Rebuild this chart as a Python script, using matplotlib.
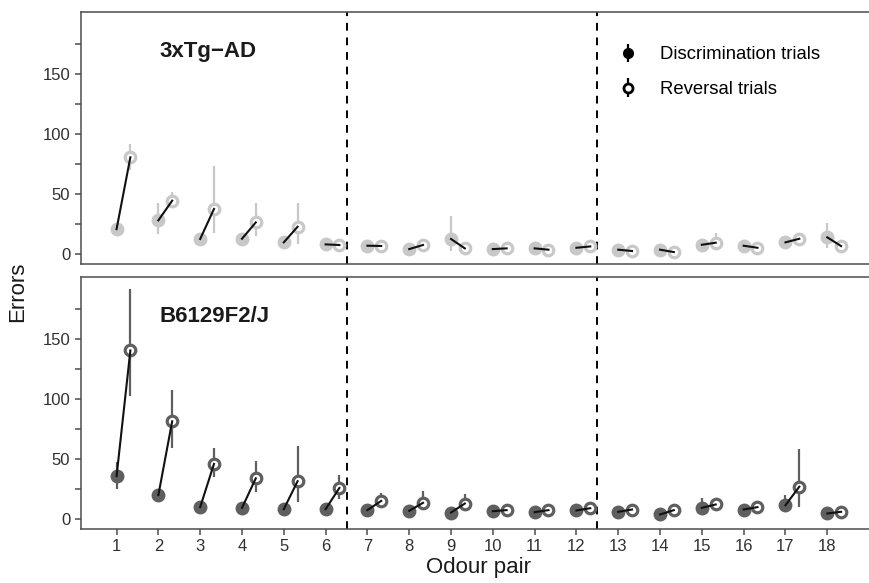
import matplotlib
matplotlib.use("Agg")
import matplotlib.pyplot as plt
import numpy as np

plt.rcParams['font.family'] = ['Liberation Sans', 'DejaVu Sans']

# odour pairs
pairs = np.arange(1, 19)

# 3xTg-AD : mean errors and error bar limits
tg_disc = [21, 28.3, 12.8, 13, 10, 8.3, 7.2, 4.4, 12.8, 4.4, 5, 5.5, 3.9, 3.9, 8, 7.2, 10, 14.2]
tg_disc_lo = [18, 16.7, 10, 10, 8, 6, 5, 3, 2.8, 3, 3.5, 4, 2.5, 2.5, 6, 5.5, 7.5, 5]
tg_disc_hi = [24, 43, 16, 16, 12, 10, 9, 6, 32, 6, 6.5, 7, 5.5, 5.5, 10, 9, 13, 25.8]
tg_rev = [80.8, 44.7, 37.8, 26.6, 23, 7.8, 7, 7.8, 5, 5, 3.9, 6.6, 2.8, 1.9, 9.7, 5.5, 13, 6.9]
tg_rev_lo = [70, 40, 17.5, 15, 8.5, 6, 5, 5.5, 3, 3, 2.5, 4.5, 1.5, 0.5, 6, 4, 10, 5]
tg_rev_hi = [92, 52, 73.6, 43, 43, 9.5, 9, 10, 7, 7, 5.5, 8.5, 4, 3.5, 17.5, 7, 16, 9]

# B6129F2/J
wt_disc = [35.8, 20, 10, 9.4, 8.3, 8.3, 7.5, 6.9, 5.5, 6.6, 5.8, 7.2, 6.1, 3.9, 9.4, 8, 11.6, 4.7]
wt_disc_lo = [24.7, 14, 8, 7.5, 6.5, 6.5, 6, 5, 4, 5, 4.5, 5.5, 4.5, 2.5, 7, 6.5, 6, 3.5]
wt_disc_hi = [47.7, 25, 12, 11.5, 10, 10, 9, 8.5, 7, 8, 7, 9, 7.5, 5.5, 17.5, 9.5, 20, 6]
wt_rev = [140.6, 81.5, 46, 34, 31.6, 26, 15.2, 13.6, 13, 7.5, 7.5, 9.1, 8, 7.5, 12.2, 10, 27, 6.1]
wt_rev_lo = [103, 59, 34.7, 23, 14.4, 17, 10, 7.5, 7.5, 5.5, 5.5, 6.5, 6, 5.5, 9, 8, 10.2, 4.5]
wt_rev_hi = [192, 108, 59, 48.8, 61.3, 36.4, 21.4, 23.5, 20.8, 9.5, 9.5, 12, 10, 10, 16, 12, 58.2, 8]

offset = 0.33
spine_col = "#4d4d4d"

fig = plt.figure(figsize=(8.7, 5.83), dpi=100)
ax_top = fig.add_axes([0.0928, 0.5472, 0.9153, 0.4328])
ax_bot = fig.add_axes([0.0928, 0.0931, 0.9153, 0.4322])


def panel(ax, disc, dlo, dhi, rev, rlo, rhi, col, label):
    disc = np.array(disc); rev = np.array(rev)
    xr = pairs + offset
    ax.vlines(pairs, dlo, dhi, color=col, lw=1.6, zorder=2)
    ax.vlines(xr, rlo, rhi, color=col, lw=1.6, zorder=2)
    ax.plot(pairs, disc, 'o', ms=9, color=col, zorder=3)
    ax.plot(xr, rev, 'o', ms=7.6, mfc='white', mec=col, mew=2.3, zorder=3)
    for i in range(len(pairs)):
        ax.plot([pairs[i], xr[i]], [disc[i], rev[i]], color='#111111', lw=1.5, zorder=4)
    for xv in (6.5, 12.5):
        ax.axvline(xv, color='black', lw=1.4, ls=(0, (4, 3.5)), zorder=1)
    ax.set_xlim(0.143, 19.19)
    ax.set_ylim(-8, 202)
    ax.set_yticks([0, 50, 100, 150])
    ax.set_yticks([25, 75, 125, 175], minor=True)
    ax.set_xticks(pairs)
    for s in ax.spines.values():
        s.set_color(spine_col)
        s.set_linewidth(1.1)
    ax.tick_params(axis='both', which='both', colors=spine_col, length=4, width=1.1,
                   labelcolor='#303030', labelsize=12)
    ax.text(2.02, 169, label, fontsize=16, fontweight='bold', color='#1a1a1a',
            ha='left', va='center')


panel(ax_top, tg_disc, tg_disc_lo, tg_disc_hi, tg_rev, tg_rev_lo, tg_rev_hi, "#c8c8c8", "3xTg\u2212AD")
panel(ax_bot, wt_disc, wt_disc_lo, wt_disc_hi, wt_rev, wt_rev_lo, wt_rev_hi, "#5f5f5f", "B6129F2/J")
ax_top.tick_params(axis='x', which='both', bottom=False, labelbottom=False)
ax_bot.set_xlabel("Odour pair", fontsize=16, color='#1a1a1a', labelpad=2)
fig.text(0.02, 0.5, "Errors", rotation=90, fontsize=16, color='#1a1a1a', ha='center', va='center')

# legend
h1 = ax_top.errorbar([np.nan], [np.nan], yerr=[[1], [1]], fmt='o', color='black', ms=7, lw=1.6)
h2 = ax_top.errorbar([np.nan], [np.nan], yerr=[[1], [1]], fmt='o', color='black', mfc='white',
                     ms=6.5, mew=2, lw=1.6)
ax_top.legend([h1, h2], ["Discrimination trials", "Reversal trials"], loc='upper left',
              bbox_to_anchor=(0.655, 0.928), frameon=False, fontsize=13.3, handlelength=1.0,
              handletextpad=1.2, labelspacing=0.95)

fig.savefig("out.png", dpi=100)
